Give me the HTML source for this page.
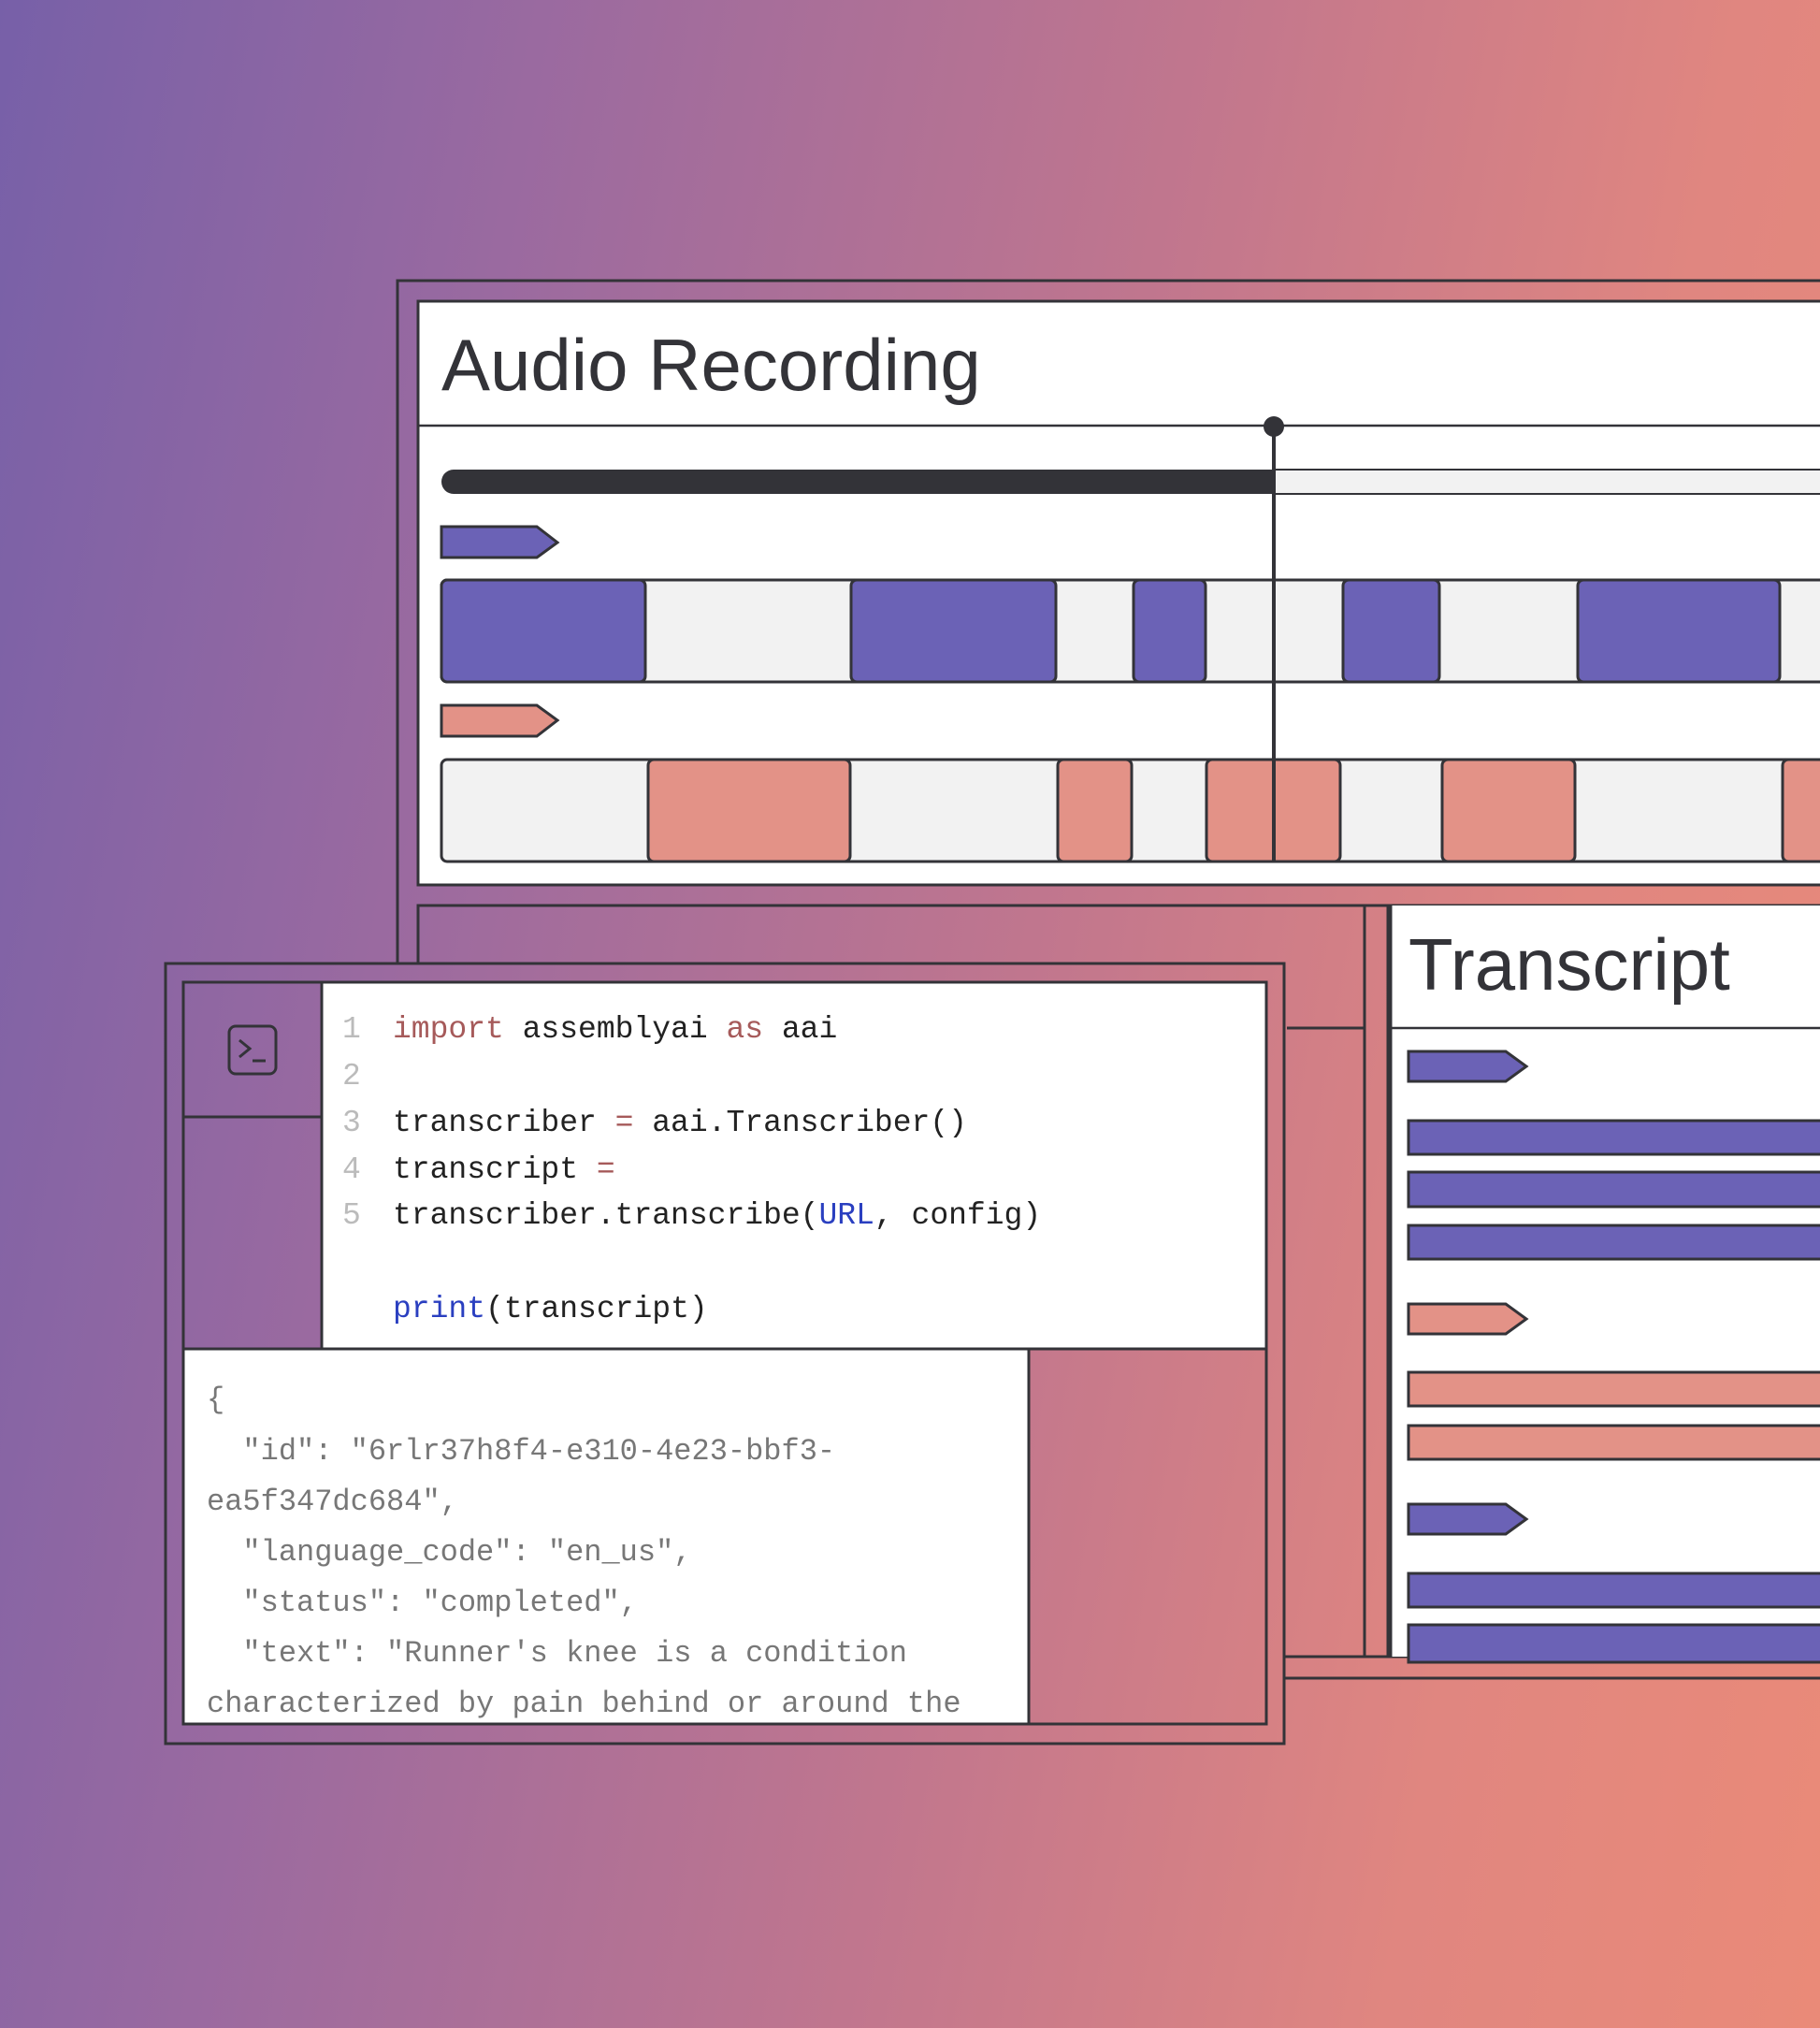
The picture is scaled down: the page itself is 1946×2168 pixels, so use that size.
<!DOCTYPE html>
<html><head><meta charset="utf-8"><style>
html,body{margin:0;padding:0}
body{width:1946px;height:2168px;overflow:hidden;background:linear-gradient(100deg,#7760a8 0%,#9a6aa0 25%,#c0768e 55%,#e08680 80%,#ea8a78 100%)}
svg{position:absolute;left:0;top:0}
.m{font-family:"Liberation Mono",monospace}
</style></head><body>
<svg width="1946" height="2168" viewBox="0 0 1946 2168" xmlns="http://www.w3.org/2000/svg">
<g stroke="#333338" stroke-width="3" fill="none">
 <!-- audio outer frame -->
 <path d="M425 1030 V300 H1950"/>
 <path d="M447 1030 V968 H1950"/>
 <!-- transcript frames -->
 <path d="M1459 968 V1771 M1484 968 V1771"/>
 <path d="M1376 1099 H1459"/>
 <path d="M1373 1771 H1950 M1373 1794 H1950"/>
</g>
<!-- audio white panel -->
<rect x="447" y="322" width="1510" height="624" fill="#fff" stroke="#333338" stroke-width="3"/>
<line x1="447" y1="455" x2="1950" y2="455" stroke="#333338" stroke-width="2.5"/>
<text x="472" y="417" font-family="Liberation Sans, sans-serif" font-size="78" fill="#333338">Audio Recording</text>
<!-- progress -->
<rect x="1362" y="502" width="600" height="26" fill="#f2f2f2" stroke="#333338" stroke-width="2"/>
<path d="M485 502 H1362 V528 H485 A13 13 0 0 1 485 502Z" fill="#333338"/>
<!-- tags -->
<path d="M472 563 H574 L596 580 L574 596 H472Z" fill="#6b62b6" stroke="#333338" stroke-width="3"/>
<path d="M472 754 H574 L596 770 L574 787 H472Z" fill="#e39287" stroke="#333338" stroke-width="3"/>
<!-- track 1 -->
<rect x="472" y="620" width="1500" height="109" rx="6" fill="#f2f2f2" stroke="#333338" stroke-width="3"/>
<g fill="#6b62b6" stroke="#333338" stroke-width="3">
 <rect x="472" y="620" width="218" height="109" rx="6"/>
 <rect x="910" y="620" width="219" height="109" rx="6"/>
 <rect x="1212" y="620" width="77" height="109" rx="6"/>
 <rect x="1436" y="620" width="103" height="109" rx="6"/>
 <rect x="1687" y="620" width="216" height="109" rx="6"/>
</g>
<!-- track 2 -->
<rect x="472" y="812" width="1500" height="109" rx="6" fill="#f2f2f2" stroke="#333338" stroke-width="3"/>
<g fill="#e39287" stroke="#333338" stroke-width="3">
 <rect x="693" y="812" width="216" height="109" rx="6"/>
 <rect x="1131" y="812" width="79" height="109" rx="6"/>
 <rect x="1290" y="812" width="143" height="109" rx="6"/>
 <rect x="1542" y="812" width="142" height="109" rx="6"/>
 <rect x="1906" y="812" width="80" height="109" rx="6"/>
</g>
<!-- playhead -->
<line x1="1362" y1="455" x2="1362" y2="922" stroke="#333338" stroke-width="4"/>
<circle cx="1362" cy="456" r="11" fill="#333338"/>
<!-- transcript panel -->
<rect x="1487" y="968" width="470" height="803" fill="#fff"/>
<line x1="1487" y1="1099" x2="1950" y2="1099" stroke="#333338" stroke-width="2.5"/>
<text x="1506" y="1058" font-family="Liberation Sans, sans-serif" font-size="78" fill="#333338">Transcript</text>
<g stroke="#333338" stroke-width="3">
 <path d="M1506 1124 H1610 L1632 1140 L1610 1156 H1506Z" fill="#6b62b6"/>
 <path d="M1506 1394 H1610 L1632 1410 L1610 1426 H1506Z" fill="#e39287"/>
 <path d="M1506 1608 H1610 L1632 1624 L1610 1640 H1506Z" fill="#6b62b6"/>
 <rect x="1506" y="1198" width="460" height="36" fill="#6b62b6"/>
 <rect x="1506" y="1253" width="460" height="37" fill="#6b62b6"/>
 <rect x="1506" y="1310" width="460" height="36" fill="#6b62b6"/>
 <rect x="1506" y="1467" width="460" height="36" fill="#e39287"/>
 <rect x="1506" y="1524" width="460" height="36" fill="#e39287"/>
 <rect x="1506" y="1682" width="460" height="36" fill="#6b62b6"/>
 <rect x="1506" y="1737" width="460" height="40" fill="#6b62b6"/>
</g>
<line x1="1487" y1="968" x2="1487" y2="1771" stroke="#333338" stroke-width="3"/>
<!-- code window -->
<rect x="177" y="1030" width="1196" height="834" fill="none" stroke="#333338" stroke-width="3"/>
<rect x="196" y="1050" width="1158" height="793" fill="none" stroke="#333338" stroke-width="3"/>
<line x1="196" y1="1194" x2="344" y2="1194" stroke="#333338" stroke-width="3"/>
<rect x="344" y="1050" width="1010" height="392" fill="#fff" stroke="#333338" stroke-width="3"/>
<rect x="196" y="1442" width="904" height="401" fill="#fff" stroke="#333338" stroke-width="3"/>
<rect x="245" y="1097" width="50" height="51" rx="7" fill="none" stroke="#333338" stroke-width="3"/>
<path d="M256 1112 L267 1121 L256 1130 M270 1134 H284" fill="none" stroke="#333338" stroke-width="3"/>
<g class="m" font-size="33">
 <g fill="#bbbbbb"><text x="366" y="1109">1</text><text x="366" y="1159">2</text><text x="366" y="1209">3</text><text x="366" y="1259">4</text><text x="366" y="1308">5</text></g>
 <text x="420" y="1109" fill="#222"><tspan fill="#a65a5a">import</tspan> assemblyai <tspan fill="#a65a5a">as</tspan> aai</text>
 <text x="420" y="1209" fill="#222">transcriber <tspan fill="#a65a5a">=</tspan> aai.Transcriber()</text>
 <text x="420" y="1259" fill="#222">transcript <tspan fill="#a65a5a">=</tspan></text>
 <text x="420" y="1308" fill="#222">transcriber.transcribe(<tspan fill="#2a3fc0">URL</tspan>, config)</text>
 <text x="420" y="1408" fill="#222"><tspan fill="#2a3fc0">print</tspan>(transcript)</text>
</g>
<g class="m" font-size="32" fill="#777">
 <text x="221" y="1505">{</text>
 <text x="221" y="1560" xml:space="preserve">  "id": "6rlr37h8f4-e310-4e23-bbf3-</text>
 <text x="221" y="1614">ea5f347dc684",</text>
 <text x="221" y="1668" xml:space="preserve">  "language_code": "en_us",</text>
 <text x="221" y="1722" xml:space="preserve">  "status": "completed",</text>
 <text x="221" y="1776" xml:space="preserve">  "text": "Runner's knee is a condition</text>
 <text x="221" y="1830">characterized by pain behind or around the</text>
</g>
</svg>
</body></html>
